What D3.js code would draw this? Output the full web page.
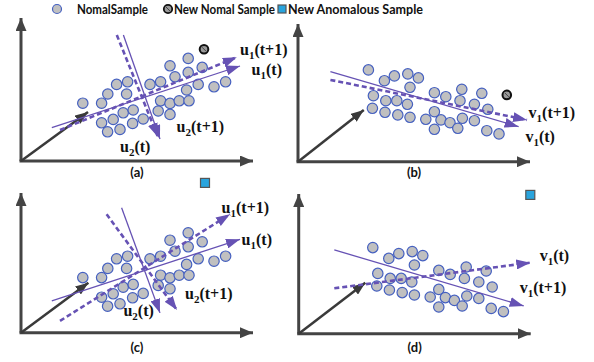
<!DOCTYPE html>
<html>
<head>
<meta charset="utf-8">
<script src="https://cdn.jsdelivr.net/npm/d3@7"></script>
<style>
  html, body { margin: 0; padding: 0; background: #fff; }
  svg { display: block; }
</style>
</head>
<body>
<div id="chart"></div>
<script>
// normal samples, panel (a)/(c) cloud, data units
const cloudU = [
  [3.09, 2.89], [4.03, 2.89], [4.34, 3.35], [4.78, 3.83], [5.33, 3.96], [5.28, 3.35],
  [6.45, 3.83], [6.98, 3.96], [7.45, 4.76], [8.36, 5.13], [7.70, 4.21], [8.36, 4.43],
  [9.06, 4.68], [8.86, 3.83], [8.28, 3.55], [9.65, 3.71], [10.23, 3.96], [6.98, 3.01],
  [7.45, 2.88], [7.91, 3.01], [8.40, 3.01], [6.86, 2.50], [7.45, 2.33], [5.11, 2.41],
  [5.61, 2.55], [4.61, 2.08], [4.03, 1.91], [5.58, 1.88], [6.11, 2.10], [4.33, 1.46],
  [4.95, 1.58]
];
// normal samples, panel (b)/(d) cloud
const cloudV = [
  [3.52, 4.59], [4.32, 4.05], [4.82, 4.29], [5.49, 4.39], [6.02, 4.19], [5.60, 3.72],
  [3.77, 3.30], [4.39, 3.05], [4.94, 3.05], [5.47, 2.87], [3.72, 2.67], [4.35, 2.47],
  [4.99, 2.34], [5.60, 2.22], [6.82, 3.45], [7.39, 3.25], [8.19, 3.62], [9.19, 3.42],
  [8.10, 3.05], [8.82, 2.87], [9.49, 2.62], [6.82, 2.50], [6.39, 2.12], [7.15, 2.09],
  [7.60, 1.95], [8.22, 2.17], [8.82, 2.05], [6.82, 1.62], [7.99, 1.67], [9.44, 1.55],
  [10.05, 1.39]
];

// direction vectors: [name, x1, y1, x2, y2, dashed]
const vecA = [
  ['u1t', 1.54, 1.67, 10.95, 4.75, false],
  ['u1t1', 1.95, 1.55, 10.79, 5.19, true],
  ['u2t', 5.12, 6.30, 6.95, 1.10, false],
  ['u2t1', 4.79, 6.30, 6.85, 1.20, true]
];
const vecB = [
  ['v1t', 1.62, 4.50, 11.03, 1.75, false],
  ['v1t1', 1.62, 4.09, 11.45, 2.09, true]
];
const vecC = [
  ['u1t', 1.54, 1.59, 10.95, 4.67, false],
  ['u1t1', 1.95, 0.59, 10.45, 5.92, true],
  ['u2t', 5.03, 6.25, 6.95, 0.99, false],
  ['u2t1', 4.28, 5.92, 7.80, 1.13, true]
];
const vecD = [
  ['v1t1', 1.78, 4.19, 11.25, 1.39, false],
  ['v1t', 1.78, 2.27, 11.58, 3.55, true]
];

// labels: [main, sub, rest, x, y]
const labA = [['u', '1', '(t+1)', 10.95, 5.3], ['u', '1', '(t)', 11.53, 4.3],
              ['u', '2', '(t+1)', 7.78, 1.47], ['u', '2', '(t)', 4.95, 0.47]];
const labB = [['v', '1', '(t+1)', 11.53, 2.19], ['v', '1', '(t)', 11.37, 1.0]];
const labC = [['u', '1', '(t+1)', 10.03, 6.0], ['u', '1', '(t)', 11.03, 4.39],
              ['u', '2', '(t+1)', 8.2, 1.67], ['u', '2', '(t)', 5.12, 0.84]];
const labD = [['v', '1', '(t)', 12.05, 3.64], ['v', '1', '(t+1)', 11.05, 2.05]];

const legendItems = ['NomalSample', 'New Nomal Sample', 'New Anomalous Sample'];

const width = 594, height = 362;
const purple = '#6652b4';

const panels = [
  { name: '(a)', ox: 21, oy: 161, top: 18, cloud: cloudU, shift: [0, 0], vecs: vecA, labs: labA,
    mean: [3.35, 2.45], newNormal: [9.15, 5.59], labelY: 177 },
  { name: '(b)', ox: 298, oy: 161.7, top: 24, cloud: cloudV, shift: [0, 0], vecs: vecB, labs: labB,
    mean: [3.29, 2.59], newNormal: [10.44, 3.34], labelY: 177 },
  { name: '(c)', ox: 21, oy: 332.7, top: 193, cloud: cloudU, shift: [0, -0.135], vecs: vecC, labs: labC,
    mean: [3.37, 2.5], anomaly: [9.2, 7.49], labelY: 352 },
  { name: '(d)', ox: 298.7, oy: 333.7, top: 194, cloud: cloudV, shift: [0.185, -0.285], vecs: vecD, labs: labD,
    mean: [3.33, 2.55], anomaly: [11.58, 6.94], labelY: 352 }
];

const svg = d3.select('#chart').append('svg')
  .attr('width', width)
  .attr('height', height);

const defs = svg.append('defs');
function marker(id, color, len, wid) {
  defs.append('marker')
    .attr('id', id)
    .attr('markerUnits', 'userSpaceOnUse')
    .attr('viewBox', `0 ${-wid / 2} ${len} ${wid}`)
    .attr('refX', len).attr('refY', 0)
    .attr('markerWidth', len).attr('markerHeight', wid)
    .attr('orient', 'auto')
    .append('path')
    .attr('d', `M0,${-wid / 2}L${len},0L0,${wid / 2}Z`)
    .attr('fill', color);
}
marker('axisHead', '#444', 13, 11);
marker('meanHead', '#3a3a3a', 13, 10);
marker('vecHead', purple, 14, 10);

panels.forEach(p => {
  const x = d3.scaleLinear().domain([0, 1]).range([p.ox, p.ox + 20]);
  const y = d3.scaleLinear().domain([0, 1]).range([p.oy, p.oy - 20]);
  const g = svg.append('g');

  // axes
  g.append('line')
    .attr('x1', p.ox).attr('y1', p.oy).attr('x2', p.ox).attr('y2', p.top)
    .attr('stroke', '#444').attr('stroke-width', 3).attr('marker-end', 'url(#axisHead)');
  g.append('line')
    .attr('x1', p.ox - 1.5).attr('y1', p.oy).attr('x2', p.ox + 232).attr('y2', p.oy)
    .attr('stroke', '#444').attr('stroke-width', 3).attr('marker-end', 'url(#axisHead)');

  // mean vector
  g.append('line')
    .attr('x1', x(0)).attr('y1', y(0)).attr('x2', x(p.mean[0])).attr('y2', y(p.mean[1]))
    .attr('stroke', '#3a3a3a').attr('stroke-width', 2.5).attr('marker-end', 'url(#meanHead)');

  // samples
  g.append('g').selectAll('circle')
    .data(p.cloud)
    .enter().append('circle')
    .attr('cx', d => x(d[0] + p.shift[0]))
    .attr('cy', d => y(d[1] + p.shift[1]))
    .attr('r', 5.2)
    .attr('fill', '#c0c0c0')
    .attr('stroke', '#4560c0')
    .attr('stroke-width', 1.2);

  // principal directions
  g.append('g').selectAll('line')
    .data(p.vecs)
    .enter().append('line')
    .attr('x1', d => x(d[1])).attr('y1', d => y(d[2]))
    .attr('x2', d => x(d[3])).attr('y2', d => y(d[4]))
    .attr('stroke', purple)
    .attr('stroke-width', d => d[5] ? 2.6 : 1.3)
    .attr('stroke-dasharray', d => d[5] ? '5,3' : null)
    .attr('marker-end', 'url(#vecHead)');

  // vector labels
  const t = g.append('g').selectAll('text')
    .data(p.labs)
    .enter().append('text')
    .attr('x', d => x(d[3])).attr('y', d => y(d[4]))
    .style('font-family', '"Liberation Serif", "Times New Roman", serif')
    .style('font-weight', 'bold')
    .style('font-size', '16px')
    .style('fill', '#111');
  t.append('tspan').text(d => d[0]);
  t.append('tspan').attr('dy', 4).style('font-size', '11px').text(d => d[1]);
  t.append('tspan').attr('dy', -4).text(d => d[2]);

  if (p.newNormal) {
    const c = [x(p.newNormal[0]), y(p.newNormal[1])];
    g.append('circle').attr('cx', c[0]).attr('cy', c[1]).attr('r', 4.3)
      .attr('fill', '#9a9a9a').attr('stroke', '#111').attr('stroke-width', 2);
    g.append('line').attr('x1', c[0] - 2).attr('y1', c[1] - 2).attr('x2', c[0] + 2).attr('y2', c[1] + 2)
      .attr('stroke', '#444').attr('stroke-width', 1);
  }
  if (p.anomaly) {
    g.append('rect')
      .attr('x', x(p.anomaly[0]) - 4.5).attr('y', y(p.anomaly[1]) - 4.5)
      .attr('width', 9).attr('height', 9)
      .attr('fill', '#29a4dd').attr('stroke', '#555').attr('stroke-width', 1.2);
  }

  g.append('text')
    .attr('x', p.ox + 116).attr('y', p.labelY)
    .attr('text-anchor', 'middle')
    .style('font-family', 'Lato, "Open Sans", sans-serif')
    .style('font-weight', 'bold')
    .style('font-size', '13px')
    .style('fill', '#111')
    .text(p.name);
});

// legend
const legend = svg.append('g');
const legendX = [57, 168, 282];
const legendTextX = [77, 174, 288];
const legendWidth = [71, 101, 135];
legend.selectAll('text')
  .data(legendItems)
  .enter().append('text')
  .attr('x', (d, i) => legendTextX[i])
  .attr('y', 13.5)
  .attr('textLength', (d, i) => legendWidth[i])
  .attr('lengthAdjust', 'spacingAndGlyphs')
  .style('font-family', 'Lato, "Open Sans", sans-serif')
  .style('font-weight', 'bold')
  .style('font-size', '12.5px')
  .style('fill', '#111')
  .text(d => d);

legend.append('circle').attr('cx', legendX[0]).attr('cy', 9).attr('r', 4.5)
  .attr('fill', '#c0c0c0').attr('stroke', '#4560c0').attr('stroke-width', 1.2);
legend.append('circle').attr('cx', legendX[1]).attr('cy', 9).attr('r', 4.2)
  .attr('fill', '#9a9a9a').attr('stroke', '#111').attr('stroke-width', 1.8);
legend.append('line').attr('x1', legendX[1] - 2).attr('y1', 7).attr('x2', legendX[1] + 2).attr('y2', 11)
  .attr('stroke', '#444').attr('stroke-width', 1);
legend.append('rect').attr('x', legendX[2] - 4).attr('y', 5).attr('width', 8).attr('height', 8)
  .attr('fill', '#29a4dd').attr('stroke', '#555').attr('stroke-width', 1.2);
</script>
</body>
</html>
